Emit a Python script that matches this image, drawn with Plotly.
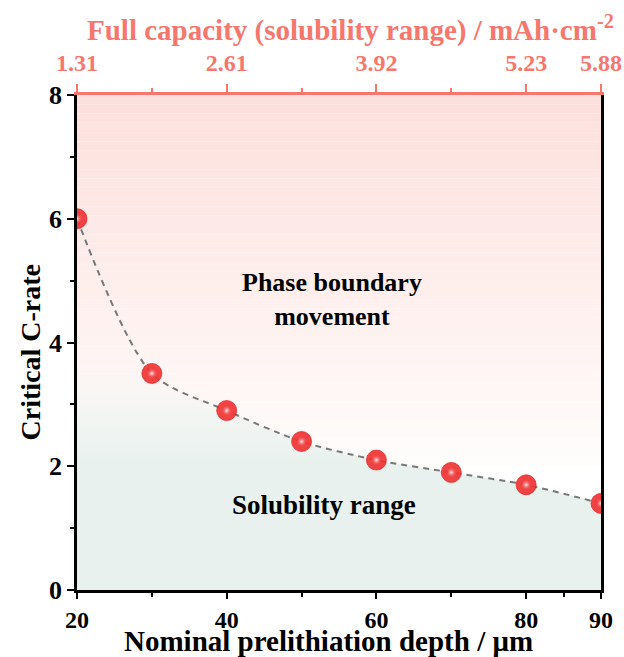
import numpy as np
import plotly.graph_objects as go

# ---- data ----
depth = [20, 30, 40, 50, 60, 70, 80, 90]
crate = [6.0, 3.5, 2.9, 2.4, 2.1, 1.9, 1.7, 1.4]
bottom_ticks = [20, 40, 60, 80, 90]
bottom_ticktext = ["20", "40", "60", "80", "90"]
bottom_minor = [30, 50, 70, 85]
top_ticks = [20, 40, 60, 80, 90]
top_ticktext = ["1.31", "2.61", "3.92", "5.23", "5.88"]
top_minor = [30, 50, 70]
y_ticks = [0, 2, 4, 6, 8]
y_minor = [1, 3, 5, 7]

FONT = "Liberation Serif"
SALMON = "#f7766d"
GREEN = "232,241,237"

fig = go.Figure()

# green gradient fill under the curve with dashed line
fig.add_trace(go.Scatter(
    x=depth, y=crate, mode="lines",
    line=dict(color="#777777", width=2, dash="6px,5px", shape="spline", smoothing=0.8),
    fill="tozeroy",
    fillgradient=dict(type="vertical", start=0, stop=4,
                      colorscale=[[0, f"rgba({GREEN},1)"], [0.5, f"rgba({GREEN},1)"],
                                  [0.9, f"rgba({GREEN},0)"], [1, f"rgba({GREEN},0)"]]),
    hoverinfo="skip", showlegend=False,
))

# sphere-like markers: solid body + centered highlight
fig.add_trace(go.Scatter(
    x=depth, y=crate, mode="markers",
    marker=dict(size=20, color="#f03434", line=dict(width=0.8, color="#e02020"), opacity=0.92),
    showlegend=False,
))
fig.add_trace(go.Scatter(
    x=depth, y=crate, mode="markers",
    marker=dict(size=11, color="rgba(240,60,60,0)",
                gradient=dict(type="radial", color="rgba(255,235,235,1)"),
                line=dict(width=0)),
    showlegend=False, hoverinfo="skip",
))

# dummy trace for top axis
fig.add_trace(go.Scatter(x=[depth[0], depth[-1]], y=[None, None], xaxis="x2",
                         mode="markers", showlegend=False, hoverinfo="skip"))

# pink gradient background bands
shapes = []
n = 40
edges = np.linspace(8, 2.0, n + 1)
top_col = np.array([253, 224, 221])
bot_col = np.array([255, 253, 252])
for i in range(n):
    t = i / (n - 1)
    c = top_col + (bot_col - top_col) * t
    shapes.append(dict(type="rect", xref="x", yref="y", x0=20, x1=90,
                       y0=edges[i + 1], y1=edges[i], layer="below",
                       line=dict(width=0),
                       fillcolor=f"rgb({int(c[0])},{int(c[1])},{int(c[2])})"))

fig.update_layout(
    width=624, height=657,
    margin=dict(l=77, r=23, t=95, b=67),
    paper_bgcolor="white", plot_bgcolor="white",
    shapes=shapes,
    font=dict(family=FONT, color="black"),
    xaxis=dict(
        range=[20, 90], tickmode="array", tickvals=bottom_ticks, ticktext=bottom_ticktext,
        ticks="outside", ticklen=6, tickwidth=2, tickcolor="black",
        showline=True, linecolor="black", linewidth=2.5, mirror=False,
        showgrid=False, zeroline=False, automargin=False,
        tickfont=dict(family=FONT, size=24, color="black", weight="bold"),
        minor=dict(tickmode="array", tickvals=bottom_minor, ticks="outside",
                   ticklen=4, tickwidth=2, tickcolor="black"),
    ),
    xaxis2=dict(
        overlaying="x", side="top", range=[20, 90],
        tickmode="array", tickvals=top_ticks, ticktext=top_ticktext,
        ticks="outside", ticklen=8, tickwidth=2, tickcolor=SALMON,
        showline=True, linecolor=SALMON, linewidth=2.5, ticklabelstandoff=4,
        showgrid=False, zeroline=False, automargin=False,
        tickfont=dict(family=FONT, size=24, color=SALMON, weight="bold"),
        minor=dict(tickmode="array", tickvals=top_minor, ticks="outside",
                   ticklen=4, tickwidth=2, tickcolor=SALMON),
    ),
    yaxis=dict(
        range=[0, 8], tickmode="array", tickvals=y_ticks,
        ticks="outside", ticklen=7, tickwidth=2, tickcolor="black",
        showline=True, linecolor="black", linewidth=2.5, mirror=True,
        showgrid=False, zeroline=False, automargin=False,
        tickfont=dict(family=FONT, size=26, color="black", weight="bold"),
        minor=dict(tickmode="array", tickvals=y_minor, ticks="outside",
                   ticklen=4, tickwidth=2, tickcolor="black"),
    ),
    annotations=[
        dict(x=0.5, y=0, xref="paper", yref="paper", showarrow=False,
             xanchor="center", yanchor="middle", xshift=-11, yshift=-51,
             text="Nominal prelithiation depth / μm",
             font=dict(family=FONT, size=29, color="black", weight="bold")),
        dict(x=0.5, y=1, xref="paper", yref="paper", showarrow=False,
             xanchor="center", yanchor="middle", xshift=11, yshift=67,
             text="Full capacity (solubility range) / mAh·cm<sup>-2</sup>",
             font=dict(family=FONT, size=29, color=SALMON, weight="bold")),
        dict(x=0, y=0.5, xref="paper", yref="paper", showarrow=False,
             xanchor="center", yanchor="middle", xshift=-47, yshift=-10,
             textangle=-90, text="Critical C-rate",
             font=dict(family=FONT, size=28, color="black", weight="bold")),
        dict(x=54, y=4.7, xref="x", yref="y", showarrow=False,
             text="Phase boundary<br>movement",
             font=dict(family=FONT, size=26, color="black", weight="bold")),
        dict(x=53, y=1.38, xref="x", yref="y", showarrow=False,
             text="Solubility range",
             font=dict(family=FONT, size=27, color="black", weight="bold")),
    ],
)

fig.write_html("out.html")
